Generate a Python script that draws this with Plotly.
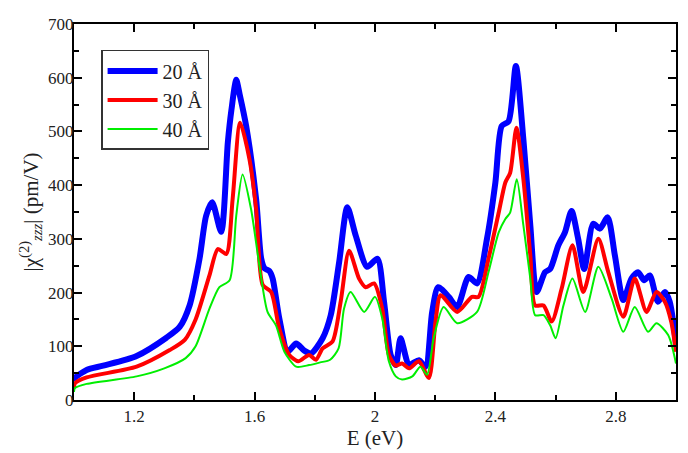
import plotly.graph_objects as go

# Energy (eV) and |chi(2)_zzz| (pm/V) for each quantum-well width
E_20 = [1.000, 1.003, 1.042, 1.097, 1.208, 1.307, 1.351, 1.384, 1.417, 1.439, 1.459, 1.489,
        1.511, 1.523, 1.539, 1.550, 1.572, 1.605, 1.622, 1.633, 1.649, 1.660, 1.682, 1.710,
        1.738, 1.765, 1.788, 1.826, 1.853, 1.881, 1.908, 1.936, 1.974, 2.008, 2.030, 2.052,
        2.069, 2.085, 2.113, 2.146, 2.168, 2.190, 2.210, 2.245, 2.273, 2.311, 2.339, 2.372,
        2.400, 2.421, 2.444, 2.468, 2.493, 2.516, 2.537, 2.565, 2.582, 2.609, 2.631, 2.653,
        2.675, 2.695, 2.725, 2.747, 2.773, 2.797, 2.825, 2.852, 2.874, 2.894, 2.913, 2.940,
        2.963, 2.979, 3.000]
V_20 = [35, 41, 56, 64, 82, 116, 136, 176, 263, 343, 368, 313,
        479, 540, 596, 570, 510, 374, 263, 245, 240, 226, 152, 90,
        105, 92, 87, 115, 158, 257, 359, 306, 248, 263, 183, 84,
        65, 115, 66, 74, 62, 164, 210, 192, 173, 229, 217, 300,
        405, 510, 519, 622, 485, 325, 201, 238, 244, 288, 312, 352,
        300, 244, 328, 319, 340, 269, 186, 226, 238, 223, 232, 183,
        201, 183, 105]

E_30 = [1.000, 1.003, 1.042, 1.208, 1.318, 1.368, 1.404, 1.450, 1.478, 1.506, 1.527, 1.552,
        1.583, 1.605, 1.627, 1.655, 1.682, 1.715, 1.745, 1.781, 1.804, 1.826, 1.859, 1.886,
        1.914, 1.947, 1.969, 1.997, 2.024, 2.046, 2.069, 2.090, 2.113, 2.146, 2.179, 2.201,
        2.218, 2.273, 2.322, 2.344, 2.377, 2.411, 2.433, 2.449, 2.470, 2.493, 2.516, 2.532,
        2.560, 2.587, 2.620, 2.656, 2.692, 2.742, 2.775, 2.825, 2.863, 2.902, 2.935, 2.963,
        2.984, 3.000]
V_30 = [22, 31, 42, 62, 93, 112, 150, 232, 281, 272, 374, 516,
        448, 356, 214, 201, 133, 84, 72, 84, 75, 96, 109, 183,
        278, 226, 210, 217, 170, 84, 64, 68, 59, 72, 41, 146,
        195, 164, 192, 192, 263, 349, 405, 423, 507, 411, 269, 176,
        176, 146, 207, 288, 201, 300, 238, 155, 226, 164, 201, 183,
        146, 90]

E_40 = [1.000, 1.003, 1.042, 1.208, 1.300, 1.371, 1.404, 1.450, 1.483, 1.517, 1.539, 1.560, 1.588,
        1.616, 1.643, 1.671, 1.699, 1.738, 1.781, 1.818, 1.851, 1.879, 1.897, 1.919, 1.964,
        2.000, 2.024, 2.046, 2.069, 2.090, 2.124, 2.151, 2.173, 2.195, 2.228, 2.273, 2.339,
        2.377, 2.411, 2.433, 2.449, 2.471, 2.493, 2.516, 2.532, 2.560, 2.582, 2.600, 2.626,
        2.656, 2.698, 2.742, 2.786, 2.825, 2.863, 2.907, 2.935, 2.974, 3.000]
V_40 = [15, 22, 30, 44, 59, 78, 100, 170, 210, 223, 343, 420, 356,
        250, 164, 139, 90, 62, 65, 70, 75, 96, 170, 201, 164,
        192, 152, 72, 44, 38, 44, 62, 47, 115, 173, 143, 164,
        238, 312, 337, 349, 411, 325, 226, 158, 158, 139, 115, 176,
        226, 164, 248, 189, 127, 173, 127, 143, 121, 68]

labels = ["20 Å", "30 Å", "40 Å"]
colors = ["#0000ff", "#ff0000", "#00ee00"]
widths = [6, 4, 2]

SERIF = "Liberation Serif"
YTITLE = "|χ<sup>(2)</sup><sub><i>zzz</i></sub>| (pm/V)"

fig = go.Figure()
for e, v, lab, c, w in zip([E_20, E_30, E_40], [V_20, V_30, V_40], labels, colors, widths):
    fig.add_trace(go.Scatter(x=e, y=v, mode="lines", name=lab,
                             line=dict(color=c, width=w, shape="spline", smoothing=0.7)))

common = dict(showline=True, linecolor="black", linewidth=2, mirror="ticks",
              ticks="inside", ticklen=8, tickwidth=1.5, tickcolor="black",
              showgrid=False, zeroline=False,
              tickfont=dict(family=SERIF, size=17, color="#222222"))

fig.update_xaxes(range=[1.0, 3.0], tick0=1.2, dtick=0.4,
                 minor=dict(ticks="inside", ticklen=5, dtick=0.2, tickcolor="black", tickwidth=1.5),
                 title=dict(text="E (eV)", font=dict(family=SERIF, size=21, color="#222222"), standoff=2),
                 **common)
fig.update_yaxes(range=[0, 700], dtick=100,
                 minor=dict(ticks="inside", ticklen=5, dtick=50, tickcolor="black", tickwidth=1.5),
                 title=dict(text=YTITLE, font=dict(family=SERIF, size=21, color="#222222"), standoff=4),
                 **common)
try:
    fig.update_yaxes(ticklabelstandoff=-5)
except Exception:
    pass

fig.update_layout(
    width=688, height=453,
    margin=dict(l=74, r=10, t=24, b=51),
    paper_bgcolor="white", plot_bgcolor="white",
    font=dict(family=SERIF, color="#222222"),
    legend=dict(x=0.045, y=0.931, xanchor="left", yanchor="top", itemwidth=50,
                bgcolor="white", bordercolor="#333333", borderwidth=1.5,
                font=dict(family=SERIF, size=20, color="#222222")),
)

fig.write_html("out.html")
